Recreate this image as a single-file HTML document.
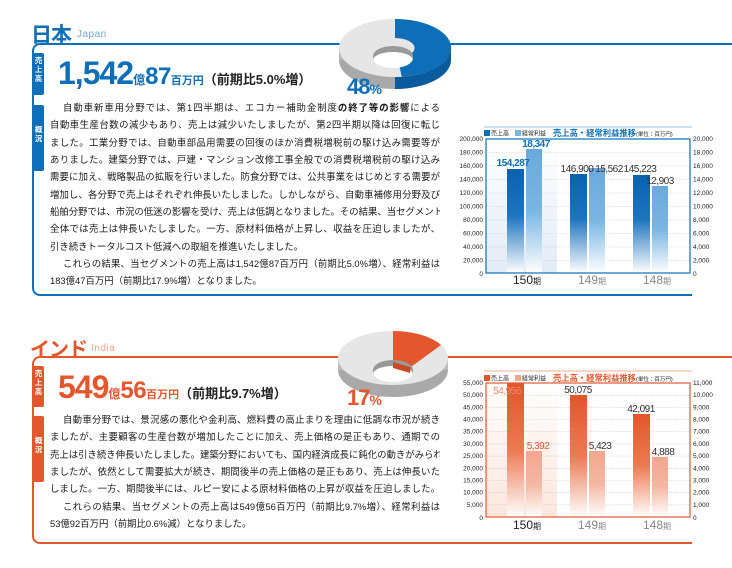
<!DOCTYPE html>
<html><head><meta charset="utf-8">
<style>
body{margin:0;width:732px;height:568px;background:#fff;position:relative;overflow:hidden;font-family:"Liberation Sans","Noto Sans CJK JP",sans-serif;}
.a{position:absolute;}
.ln{position:absolute;left:50px;width:390px;font-size:9.4px;color:#1a1a1a;text-align:justify;text-align-last:justify;white-space:nowrap;line-height:14px;overflow:hidden;}
.ln.i{left:63px;width:377px;}
.ln.n{text-align-last:left;}
.tab{position:absolute;left:33px;width:11px;color:#fff;font-size:7.5px;font-weight:bold;line-height:9px;text-align:center;border-radius:0 2px 2px 0;}
svg text{font-family:"Liberation Sans","Noto Sans CJK JP",sans-serif;}
</style></head><body>

<!-- ===== JAPAN ===== -->
<div class="a" style="left:31px;top:19px;font-size:21px;font-weight:bold;color:#0e6eb8;letter-spacing:-1px;">日本</div>
<div class="a" style="left:77px;top:29px;font-size:10px;color:#6fa6d6;letter-spacing:0.5px;">Japan</div>
<div class="a" style="left:32px;top:43px;width:700px;height:253px;border-top:2px solid #0e6eb8;border-left:2px solid #0e6eb8;border-bottom:2px solid #0e6eb8;border-radius:8px 0 0 8px;box-sizing:border-box;"></div>
<div class="a" style="left:692px;top:294px;width:40px;height:3px;background:#fff;"></div>
<div class="tab" style="top:53px;height:42px;background:#0e6eb8;padding-top:3px;box-sizing:border-box;">売<br>上<br>高</div>
<div class="tab" style="top:105px;height:66px;background:#0e6eb8;padding-top:20px;box-sizing:border-box;">概<br>況</div>
<div class="a" style="left:58px;top:55px;color:#0e6eb8;font-weight:bold;white-space:nowrap;">
<span style="font-size:32px;letter-spacing:-1px;">1,542</span><span style="font-size:12px;">億</span><span style="font-size:24px;letter-spacing:-0.5px;">87</span><span style="font-size:11px;">百万円</span><span style="font-size:13px;color:#222;">（前期比5.0%増）</span></div>

<svg class="a" style="left:330px;top:5px;" width="140" height="100" viewBox="330 5 140 100">
 <ellipse cx="395" cy="60" rx="56" ry="29" fill="#a9a9a9"/>
 <rect x="339" y="48" width="112" height="12" fill="#b8b8b8"/>
 <path d="M395 77 L395 89 A56 29 0 0 0 451 60 L451 48 A56 29 0 0 1 395 77Z" fill="#0a5a9e"/>
 <ellipse cx="395" cy="48" rx="56" ry="29" fill="#e6e6e6"/>
 <path d="M395 19 A56 29 0 0 1 401.8 76.8 L397.4 57.9 A20 10 0 0 0 395 38 Z" fill="#0e6eb8"/>
 <ellipse cx="393" cy="58" rx="20" ry="10" fill="#fff"/>
 <path d="M373 56 A20 10 0 0 1 413 56 L413 60 A20 8 0 0 0 373 60Z" fill="#999"/>
</svg>
<div class="a" style="left:347px;top:74px;font-size:22px;font-weight:bold;color:#0e6eb8;letter-spacing:-1px;">48<span style="font-size:14px;">%</span></div>

<div class="ln i" style="top:101px;">自動車新車用分野では、第1四半期は、エコカー補助金制度<b>の終了等の影響</b>による</div>
<div class="ln" style="top:118px;">自動車生産台数の減少もあり、売上は減少いたしましたが、第2四半期以降は回復に転じ</div>
<div class="ln" style="top:135.5px;">ました。工業分野では、自動車部品用需要の回復のほか消費税増税前の駆け込み需要等が</div>
<div class="ln" style="top:153px;">ありました。建築分野では、戸建・マンション改修工事全般での消費税増税前の駆け込み</div>
<div class="ln" style="top:170px;">需要に加え、戦略製品の拡販を行いました。防食分野では、公共事業をはじめとする需要が</div>
<div class="ln" style="top:187.5px;">増加し、各分野で売上はそれぞれ伸長いたしました。しかしながら、自動車補修用分野及び</div>
<div class="ln" style="top:205px;">船舶分野では、市況の低迷の影響を受け、売上は低調となりました。その結果、当セグメント</div>
<div class="ln" style="top:222px;">全体では売上は伸長いたしました。一方、原材料価格が上昇し、収益を圧迫しましたが、</div>
<div class="ln n" style="top:239.5px;">引き続きトータルコスト低減への取組を推進いたしました。</div>
<div class="ln i" style="top:257px;">これらの結果、当セグメントの売上高は1,542億87百万円（前期比5.0%増）、経常利益は</div>
<div class="ln n" style="top:274px;">183億47百万円（前期比17.9%増）となりました。</div>

<svg class="a" style="left:450px;top:120px;" width="282" height="180" viewBox="450 120 282 180">
 <defs>
  <linearGradient id="bd" x1="0" y1="0" x2="0" y2="1"><stop offset="0" stop-color="#0a62ae"/><stop offset="0.45" stop-color="#1d74bf"/><stop offset="1" stop-color="#ffffff"/></linearGradient>
  <linearGradient id="bl" x1="0" y1="0" x2="0" y2="1"><stop offset="0" stop-color="#6aa9dc"/><stop offset="0.5" stop-color="#7ab6e2"/><stop offset="1" stop-color="#ffffff"/></linearGradient>
  <linearGradient id="bg1" x1="0" y1="0" x2="0" y2="1"><stop offset="0" stop-color="#ffffff"/><stop offset="1" stop-color="#e3ebf6"/></linearGradient>
 </defs>
 <line x1="484" y1="127" x2="692" y2="127" stroke="#9cc0e0" stroke-width="1"/>
 <rect x="484" y="130" width="6" height="6" fill="#0e6eb8"/><text x="491" y="135.5" font-size="6" fill="#222">売上高</text>
 <rect x="515" y="130" width="6" height="6" fill="#7ab6e2"/><text x="522" y="135.5" font-size="6" fill="#222">経常利益</text>
 <text x="553" y="136" font-size="8.3" font-weight="bold" fill="#0e6eb8">売上高・経常利益推移</text>
 <text x="636" y="136" font-size="5.5" fill="#222">(単位：百万円)</text>
 <rect x="486" y="139" width="71" height="134" fill="url(#bg1)"/>
 <g stroke="#b9b9b9" stroke-width="0.6" stroke-dasharray="1,1.5">
  <line x1="486" y1="152.5" x2="690" y2="152.5"/><line x1="486" y1="166" x2="690" y2="166"/><line x1="486" y1="179.5" x2="690" y2="179.5"/><line x1="486" y1="193" x2="690" y2="193"/><line x1="486" y1="206.5" x2="690" y2="206.5"/><line x1="486" y1="220" x2="690" y2="220"/><line x1="486" y1="233.5" x2="690" y2="233.5"/><line x1="486" y1="247" x2="690" y2="247"/><line x1="486" y1="260.5" x2="690" y2="260.5"/>
 </g>
 <rect x="507" y="169" width="17" height="104" fill="url(#bd)"/>
 <rect x="526" y="149" width="16" height="124" fill="url(#bl)"/>
 <rect x="570" y="174" width="17" height="99" fill="url(#bd)"/>
 <rect x="589" y="168" width="16" height="105" fill="url(#bl)"/>
 <rect x="633" y="175" width="17" height="98" fill="url(#bd)"/>
 <rect x="652" y="186" width="16" height="87" fill="url(#bl)"/>
 <rect x="486" y="139" width="204" height="134" fill="none" stroke="#0e6eb8" stroke-width="1.2"/>
 <g font-size="6.5" fill="#222" text-anchor="end">
  <text x="483" y="141">200,000</text><text x="483" y="154.5">180,000</text><text x="483" y="168">160,000</text><text x="483" y="181.5">140,000</text><text x="483" y="195">120,000</text><text x="483" y="208.5">100,000</text><text x="483" y="222">80,000</text><text x="483" y="235.5">60,000</text><text x="483" y="249">40,000</text><text x="483" y="262.5">20,000</text><text x="483" y="276">0</text>
 </g>
 <g font-size="6.5" fill="#222">
  <text x="693" y="141">20,000</text><text x="693" y="154.5">18,000</text><text x="693" y="168">16,000</text><text x="693" y="181.5">14,000</text><text x="693" y="195">12,000</text><text x="693" y="208.5">10,000</text><text x="693" y="222">8,000</text><text x="693" y="235.5">6,000</text><text x="693" y="249">4,000</text><text x="693" y="262.5">2,000</text><text x="693" y="276">0</text>
 </g>
 <g font-size="10" text-anchor="middle" letter-spacing="-0.5">
  <text x="513" y="166" fill="#0e6eb8" font-weight="bold">154,287</text>
  <text x="536" y="147" fill="#0e6eb8" font-weight="bold">18,347</text>
  <text x="577" y="172" fill="#333">146,900</text>
  <text x="609" y="172" fill="#333">15,562</text>
  <text x="640" y="172" fill="#333">145,223</text>
  <text x="660" y="184" fill="#333">12,903</text>
 </g>
 <text x="527" y="284" font-size="12" fill="#222" text-anchor="middle">150<tspan font-size="8">期</tspan></text>
 <text x="592" y="284" font-size="12" fill="#888" text-anchor="middle">149<tspan font-size="8">期</tspan></text>
 <text x="657" y="284" font-size="12" fill="#888" text-anchor="middle">148<tspan font-size="8">期</tspan></text>
</svg>

<!-- ===== INDIA ===== -->
<div class="a" style="left:30px;top:333px;font-size:20px;font-weight:bold;color:#e4572e;letter-spacing:-1px;">インド</div>
<div class="a" style="left:91px;top:343px;font-size:10px;color:#f0a48c;letter-spacing:0.5px;">India</div>
<div class="a" style="left:32px;top:356px;width:700px;height:188px;border-top:2px solid #e4572e;border-left:2px solid #e4572e;border-bottom:2px solid #e4572e;border-radius:8px 0 0 8px;box-sizing:border-box;"></div>
<div class="a" style="left:692px;top:541px;width:40px;height:3px;background:#fff;"></div>
<div class="tab" style="top:366px;height:41px;background:#e4572e;padding-top:3px;box-sizing:border-box;">売<br>上<br>高</div>
<div class="tab" style="top:416px;height:66px;background:#e4572e;padding-top:20px;box-sizing:border-box;">概<br>況</div>
<div class="a" style="left:58px;top:369px;color:#e4572e;font-weight:bold;white-space:nowrap;">
<span style="font-size:32px;letter-spacing:-1px;">549</span><span style="font-size:12px;">億</span><span style="font-size:24px;letter-spacing:-0.5px;">56</span><span style="font-size:11px;">百万円</span><span style="font-size:13px;color:#222;">（前期比9.7%増）</span></div>

<svg class="a" style="left:330px;top:325px;" width="140" height="100" viewBox="330 325 140 100">
 <ellipse cx="393" cy="370" rx="55" ry="27" fill="#a9a9a9"/>
 <rect x="338" y="358" width="110" height="12" fill="#bcbcbc"/>
 <ellipse cx="393" cy="358" rx="55" ry="27" fill="#e6e6e6"/>
 <path d="M393 331 A55 27 0 0 1 441.1 345 L410.5 367.2 A20 10 0 0 0 393 362 Z" fill="#e4572e"/>
 <ellipse cx="393" cy="372" rx="20" ry="10" fill="#fff"/>
 <path d="M373 370 A20 10 0 0 1 413 370 L413 374 A20 8 0 0 0 373 374Z" fill="#999"/>
 <path d="M393 362 L393 368 L410 373 L410.5 367.2Z" fill="#c84a26"/>
</svg>
<div class="a" style="left:347px;top:385px;font-size:22px;font-weight:bold;color:#e4572e;letter-spacing:-1px;">17<span style="font-size:14px;">%</span></div>

<div class="ln i" style="top:413px;">自動車分野では、景況感の悪化や金利高、燃料費の高止まりを理由に低調な市況が続き</div>
<div class="ln" style="top:430px;">ましたが、主要顧客の生産台数が増加したことに加え、売上価格の是正もあり、通期での</div>
<div class="ln" style="top:447.5px;">売上は引き続き伸長いたしました。建築分野においても、国内経済成長に鈍化の動きがみられ</div>
<div class="ln" style="top:465px;">ましたが、依然として需要拡大が続き、期間後半の売上価格の是正もあり、売上は伸長いた</div>
<div class="ln" style="top:482px;">しました。一方、期間後半には、ルピー安による原材料価格の上昇が収益を圧迫しました。</div>
<div class="ln i" style="top:499.5px;">これらの結果、当セグメントの売上高は549億56百万円（前期比9.7%増）、経常利益は</div>
<div class="ln n" style="top:517px;">53億92百万円（前期比0.6%減）となりました。</div>

<svg class="a" style="left:450px;top:365px;" width="282" height="175" viewBox="450 365 282 175">
 <defs>
  <linearGradient id="od" x1="0" y1="0" x2="0" y2="1"><stop offset="0" stop-color="#e4552b"/><stop offset="0.5" stop-color="#ec7a52"/><stop offset="1" stop-color="#ffffff"/></linearGradient>
  <linearGradient id="ol" x1="0" y1="0" x2="0" y2="1"><stop offset="0" stop-color="#f2a68e"/><stop offset="0.5" stop-color="#f4b7a2"/><stop offset="1" stop-color="#ffffff"/></linearGradient>
  <linearGradient id="bg2" x1="0" y1="0" x2="0" y2="1"><stop offset="0" stop-color="#ffffff"/><stop offset="1" stop-color="#fbe6dd"/></linearGradient>
 </defs>
 <line x1="484" y1="371" x2="692" y2="371" stroke="#f0b09a" stroke-width="1"/>
 <rect x="484" y="375" width="6" height="6" fill="#e4572e"/><text x="491" y="380.5" font-size="6" fill="#222">売上高</text>
 <rect x="515" y="375" width="6" height="6" fill="#f2a68e"/><text x="522" y="380.5" font-size="6" fill="#222">経常利益</text>
 <text x="553" y="381" font-size="8.3" font-weight="bold" fill="#e4572e">売上高・経常利益推移</text>
 <text x="636" y="381" font-size="5.5" fill="#222">(単位：百万円)</text>
 <rect x="486" y="383" width="71" height="134" fill="url(#bg2)"/>
 <g stroke="#b9b9b9" stroke-width="0.6" stroke-dasharray="1,1.5">
  <line x1="486" y1="395.2" x2="690" y2="395.2"/><line x1="486" y1="407.4" x2="690" y2="407.4"/><line x1="486" y1="419.5" x2="690" y2="419.5"/><line x1="486" y1="431.7" x2="690" y2="431.7"/><line x1="486" y1="443.9" x2="690" y2="443.9"/><line x1="486" y1="456.1" x2="690" y2="456.1"/><line x1="486" y1="468.3" x2="690" y2="468.3"/><line x1="486" y1="480.5" x2="690" y2="480.5"/><line x1="486" y1="492.6" x2="690" y2="492.6"/><line x1="486" y1="504.8" x2="690" y2="504.8"/>
 </g>
 <rect x="507" y="383" width="17" height="134" fill="url(#od)"/>
 <rect x="526" y="451" width="16" height="66" fill="url(#ol)"/>
 <rect x="570" y="395" width="17" height="122" fill="url(#od)"/>
 <rect x="589" y="451" width="16" height="66" fill="url(#ol)"/>
 <rect x="633" y="414" width="17" height="103" fill="url(#od)"/>
 <rect x="652" y="457" width="16" height="60" fill="url(#ol)"/>
 <rect x="486" y="383" width="204" height="134" fill="none" stroke="#e4572e" stroke-width="1.2"/>
 <g font-size="6.5" fill="#222" text-anchor="end">
  <text x="483" y="385">55,000</text><text x="483" y="397.2">50,000</text><text x="483" y="409.4">45,000</text><text x="483" y="421.5">40,000</text><text x="483" y="433.7">35,000</text><text x="483" y="445.9">30,000</text><text x="483" y="458.1">25,000</text><text x="483" y="470.3">20,000</text><text x="483" y="482.5">15,000</text><text x="483" y="494.6">10,000</text><text x="483" y="506.8">5,000</text><text x="483" y="520">0</text>
 </g>
 <g font-size="6.5" fill="#222">
  <text x="693" y="385">11,000</text><text x="693" y="397.2">10,000</text><text x="693" y="409.4">9,000</text><text x="693" y="421.5">8,000</text><text x="693" y="433.7">7,000</text><text x="693" y="445.9">6,000</text><text x="693" y="458.1">5,000</text><text x="693" y="470.3">4,000</text><text x="693" y="482.5">3,000</text><text x="693" y="494.6">2,000</text><text x="693" y="506.8">1,000</text><text x="693" y="520">0</text>
 </g>
 <g font-size="10" text-anchor="middle" letter-spacing="-0.5">
  <text x="507" y="394" fill="#f08a66">54,956</text>
  <text x="538" y="449" fill="#e4572e">5,392</text>
  <text x="578" y="393" fill="#333">50,075</text>
  <text x="600" y="449" fill="#333">5,423</text>
  <text x="641" y="412" fill="#333">42,091</text>
  <text x="663" y="455" fill="#333">4,888</text>
 </g>
 <text x="527" y="529" font-size="12" fill="#222" text-anchor="middle">150<tspan font-size="8">期</tspan></text>
 <text x="592" y="529" font-size="12" fill="#888" text-anchor="middle">149<tspan font-size="8">期</tspan></text>
 <text x="657" y="529" font-size="12" fill="#888" text-anchor="middle">148<tspan font-size="8">期</tspan></text>
</svg>

</body></html>
